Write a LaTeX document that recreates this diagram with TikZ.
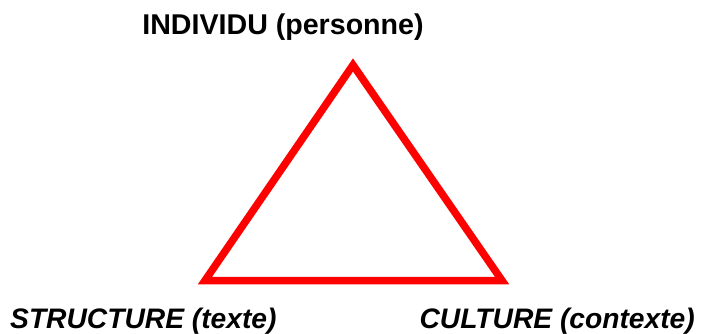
\documentclass[tikz,border=0pt]{standalone}
\usepackage{fontspec}
\setmainfont{Liberation Sans}
\begin{document}
\begin{tikzpicture}[x=1pt,y=-1pt,
  label/.style={font=\fontsize{28.6}{28.6}\selectfont\bfseries, inner sep=0pt},
  corner/.style={inner sep=0pt, font=\fontsize{28.2}{28.2}\selectfont\bfseries\itshape}]
  \useasboundingbox (0,0) rectangle (703,334);
  % triangle vertices
  \coordinate (top) at (353,65);
  \coordinate (left) at (205,280.5);
  \coordinate (right) at (502,280.5);
  \draw[red, line width=7.5pt, line join=miter] (top) -- (left) -- (right) -- cycle;
  % labels
  \node[label, anchor=base] (ind) at (283,35) {INDIVIDU (personne)};
  \node[corner, anchor=base west] (str) at (10,328) {STRUCTURE (texte)};
  \node[corner, anchor=base east] (cul) at (695,328) {CULTURE (contexte)};
\end{tikzpicture}
\end{document}
